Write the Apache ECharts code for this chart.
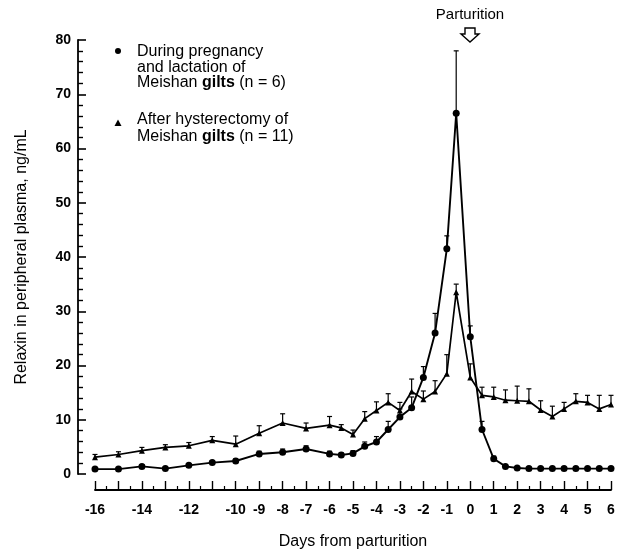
<!DOCTYPE html>
<html>
<head>
<meta charset="utf-8">
<style>html,body{margin:0;padding:0;background:#fff}#c{width:621px;height:555px}</style>
<script src="https://cdn.jsdelivr.net/npm/echarts@6/dist/echarts.min.js"></script>
</head>
<body>
<div id="c"></div>
<script>
// Days from parturition
const daysA = [-16,-15,-14,-13,-12,-11,-10,-9,-8,-7,-6,-5.5,-5,-4.5,-4,-3.5,-3,-2.5,-2,-1.5,-1,-0.6,0,0.5,1,1.5,2,2.5,3,3.5,4,4.5,5,5.5,6];
// During pregnancy and lactation (n = 6)
const valsA = [0.9,0.9,1.4,1.0,1.6,2.1,2.4,3.7,4.0,4.6,3.7,3.5,3.8,5.1,5.9,8.2,10.5,12.2,17.8,26.0,41.5,66.5,25.3,8.2,2.8,1.4,1.1,1.0,1.0,1.0,1.0,1.0,1.0,1.0,1.0];
const errA  = [0.3,0.3,0.3,0.3,0.3,0.3,0.4,0.5,0.6,0.6,0.5,0.4,0.5,0.8,1.0,1.5,1.5,2.0,2.0,3.6,2.4,11.5,2.0,1.5,0.5,0.3,0.2,0.2,0.2,0.2,0.2,0.2,0.2,0.2,0.2];
// After hysterectomy (n = 11)
const daysB = [-16,-15,-14,-13,-12,-11,-10,-9,-8,-7,-6,-5.5,-5,-4.5,-4,-3.5,-3,-2.5,-2,-1.5,-1,-0.6,0,0.5,1,1.5,2,2.5,3,3.5,4,4.5,5,5.5,6];
const valsB = [3.1,3.6,4.3,4.9,5.2,6.2,5.5,7.5,9.4,8.4,9.0,8.5,7.3,10.2,11.7,13.2,11.7,15.2,13.8,15.2,18.5,33.5,17.8,14.5,14.2,13.6,13.5,13.4,11.8,10.6,12.0,13.4,13.2,12.0,12.8];
const errB  = [0.5,0.5,0.6,0.5,0.6,0.7,1.5,1.4,1.7,1.0,1.6,0.6,0.8,1.3,1.6,1.6,1.5,2.3,1.5,2.0,3.5,1.5,2.5,1.5,1.8,1.9,2.7,2.3,1.7,1.9,1.2,1.4,1.3,2.5,1.7];
const hiddenXLabels = [-15,-13,-11];

const FONT = 'Liberation Sans, Arial, sans-serif';
const chart = echarts.init(document.getElementById('c'), null, {renderer:'canvas'});

function errData(days, vals, errs){
  return days.map((d,i)=>[d, vals[i], vals[i]+errs[i]]);
}
function errRender(params, api){
  const p0 = api.coord([api.value(0), api.value(1)]);
  const p1 = api.coord([api.value(0), api.value(2)]);
  const st = {stroke:'#000', lineWidth:1.2};
  return {type:'group', children:[
    {type:'line', shape:{x1:p0[0],y1:p0[1],x2:p1[0],y2:p1[1]}, style:st},
    {type:'line', shape:{x1:p1[0]-2.5,y1:p1[1],x2:p1[0]+2.5,y2:p1[1]}, style:st}
  ]};
}

const option = {
  backgroundColor:'#fff',
  animation:false,
  grid:{left:95, right:10, top:40, bottom:77.5},
  xAxis:{
    type:'value', min:-16, max:6, interval:1, offset:16,
    axisLine:{onZero:false, lineStyle:{color:'#000', width:1.8}},
    axisTick:{inside:true, length:9, lineStyle:{color:'#000', width:1.4}},
    minorTick:{show:true, splitNumber:2, length:4, lineStyle:{color:'#000', width:1.2}},
    splitLine:{show:false},
    axisLabel:{color:'#000', fontFamily:FONT, fontSize:14, fontWeight:'bold', margin:13,
      formatter:v=> hiddenXLabels.includes(v) ? '' : String(v)},
    name:'Days from parturition', nameLocation:'middle', nameGap:44,
    nameTextStyle:{color:'#000', fontFamily:FONT, fontSize:16}
  },
  yAxis:{
    type:'value', min:0, max:80, interval:10, offset:17,
    axisLine:{show:true, onZero:false, lineStyle:{color:'#000', width:1.8}},
    axisTick:{show:true, inside:true, length:8, lineStyle:{color:'#000', width:1.6}},
    minorTick:{show:true, splitNumber:5, length:5, lineStyle:{color:'#000', width:1.4}},
    splitLine:{show:false},
    axisLabel:{color:'#000', fontFamily:FONT, fontSize:14, fontWeight:'bold', margin:7},
    name:'Relaxin in peripheral plasma, ng/mL', nameLocation:'middle', nameGap:48,
    nameTextStyle:{color:'#000', fontFamily:FONT, fontSize:16}
  },
  series:[
    {type:'custom', renderItem:errRender, data:errData(daysA, valsA, errA), z:1, silent:true},
    {type:'custom', renderItem:errRender, data:errData(daysB, valsB, errB), z:1, silent:true},
    {type:'line', name:'During pregnancy and lactation of Meishan gilts (n = 6)',
      data:daysA.map((d,i)=>[d, valsA[i]]),
      symbol:'circle', symbolSize:7, showAllSymbol:true,
      lineStyle:{color:'#000', width:1.9}, itemStyle:{color:'#000'}, z:3},
    {type:'line', name:'After hysterectomy of Meishan gilts (n = 11)',
      data:daysB.map((d,i)=>[d, valsB[i]]),
      symbol:'triangle', symbolSize:6, showAllSymbol:true,
      lineStyle:{color:'#000', width:1.7}, itemStyle:{color:'#000'}, z:3}
  ],
  graphic:[
    {type:'circle', shape:{cx:118, cy:51, r:3}, style:{fill:'#000'}},
    {type:'text', style:{x:137, y:52, textVerticalAlign:'middle', text:'During pregnancy', font:'16px '+FONT, fill:'#000'}},
    {type:'text', style:{x:137, y:67.5, textVerticalAlign:'middle', text:'and lactation of', font:'16px '+FONT, fill:'#000'}},
    {type:'text', style:{x:137, y:83, textVerticalAlign:'middle', text:'Meishan {b|gilts} (n = 6)', font:'16px '+FONT, fill:'#000',
      rich:{b:{fontWeight:'bold', fontSize:16, fontFamily:FONT}}}},
    {type:'polygon', shape:{points:[[118,119.5],[121.5,126],[114.5,126]]}, style:{fill:'#000'}},
    {type:'text', style:{x:137, y:120, textVerticalAlign:'middle', text:'After hysterectomy of', font:'16px '+FONT, fill:'#000'}},
    {type:'text', style:{x:137, y:137, textVerticalAlign:'middle', text:'Meishan {b|gilts} (n = 11)', font:'16px '+FONT, fill:'#000',
      rich:{b:{fontWeight:'bold', fontSize:16, fontFamily:FONT}}}},
    {type:'text', style:{x:470, y:15, textAlign:'center', textVerticalAlign:'middle', text:'Parturition', font:'15px '+FONT, fill:'#000'}},
    {type:'polygon', shape:{points:[[465,28],[475,28],[475,34],[479,34],[470,42],[461,34],[465,34]]},
      style:{fill:'#fff', stroke:'#000', lineWidth:1.4}}
  ]
};
chart.setOption(option);
</script>
</body>
</html>
